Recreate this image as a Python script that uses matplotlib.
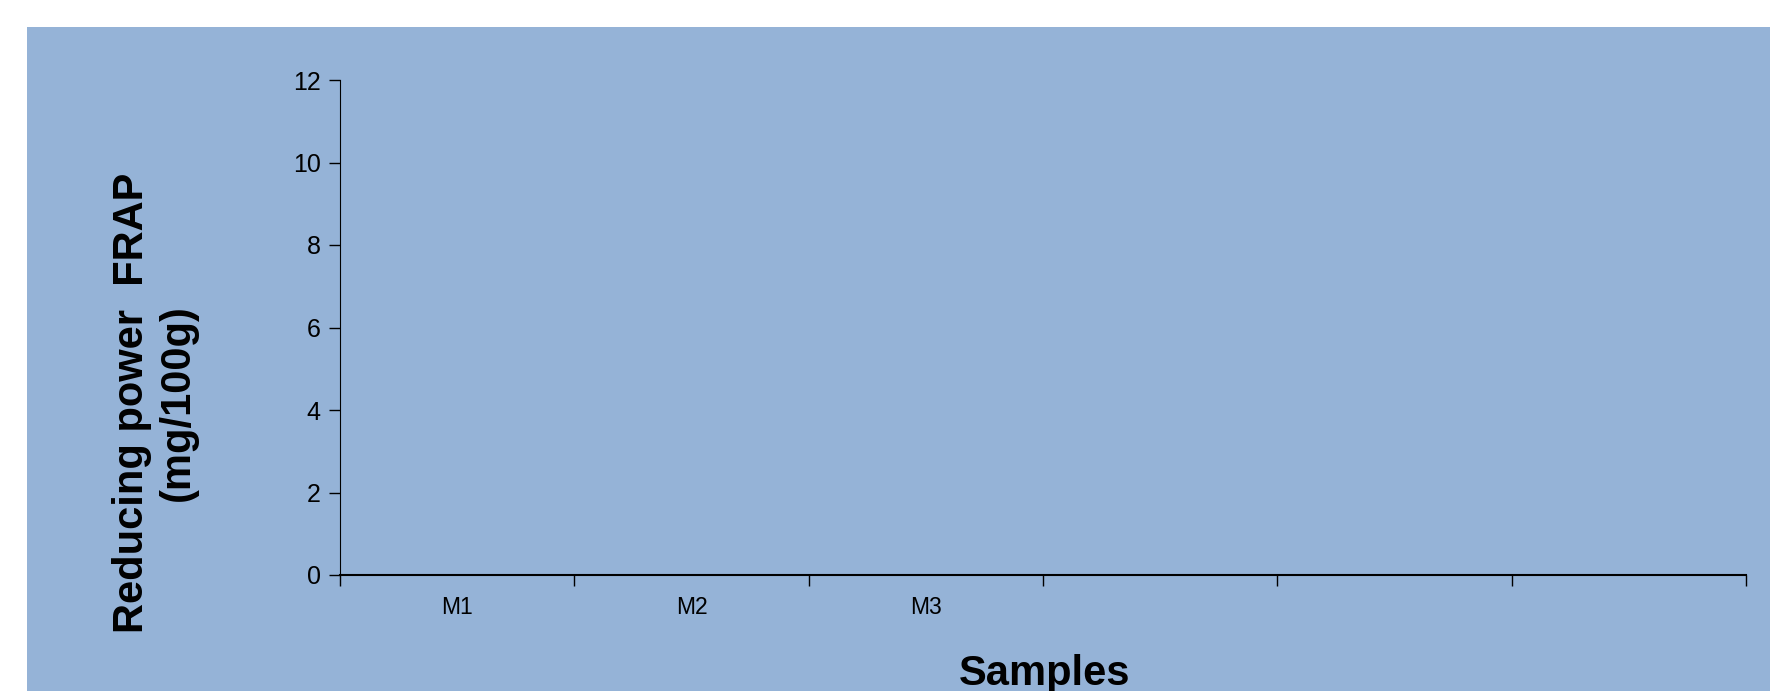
import numpy as np
import matplotlib.pyplot as plt
import matplotlib.patches as mpatches
from matplotlib.ticker import FixedLocator

plt.rcParams['font.family'] = ['Liberation Sans', 'DejaVu Sans']

# chart data (the reference chart shows no bars)
categories = ['M1', 'M2', 'M3', '', '', '']
values = [0, 0, 0, 0, 0, 0]
yticks = [0, 2, 4, 6, 8, 10, 12]

W, H = 1770, 691
fig = plt.figure(figsize=(W / 100, H / 100), dpi=100)
fig.patch.set_facecolor('white')

# blue chart area, offset from the top-left corner
bg = mpatches.Rectangle((27 / W, 0), 1 - 27 / W, 1 - 27 / H, transform=fig.transFigure,
                        facecolor='#95b3d7', edgecolor='none', zorder=-5)
fig.patches.append(bg)

ax = fig.add_axes([340 / W, 116 / H, (1746 - 340) / W, (575 - 80) / H])
ax.set_zorder(2)
ax.patch.set_alpha(0)

x = np.arange(len(categories))
ax.bar(x, values, width=0.6, color='#4f81bd')

ax.set_xlim(-0.5, len(categories) - 0.5)
ax.set_ylim(0, 12)
ax.set_yticks(yticks)
ax.tick_params(axis='y', labelsize=18, length=8, width=1, pad=6, direction='out')

# ticks between categories, labels in the middle
ax.xaxis.set_major_locator(FixedLocator(np.arange(len(categories) + 1) - 0.5))
ax.xaxis.set_minor_locator(FixedLocator(x))
ax.set_xticklabels([''] * (len(categories) + 1))
ax.set_xticklabels(categories, minor=True)
ax.tick_params(axis='x', which='major', length=8, width=1, direction='out')
ax.tick_params(axis='x', which='minor', length=0, labelsize=16.5, pad=15)

for s in ['top', 'right']:
    ax.spines[s].set_visible(False)
ax.spines['left'].set_linewidth(0.8)
ax.spines['bottom'].set_linewidth(1.5)

fig.text(155 / W, 1 - 403 / H, 'Reducing power  FRAP\n(mg/100g)', rotation=90,
         fontsize=30, fontweight='bold', ha='center', va='center', multialignment='center')
fig.text(1045 / W, 6 / H, 'Samples', fontsize=30, fontweight='bold',
         ha='center', va='baseline')

fig.savefig('out.png', dpi=100)
